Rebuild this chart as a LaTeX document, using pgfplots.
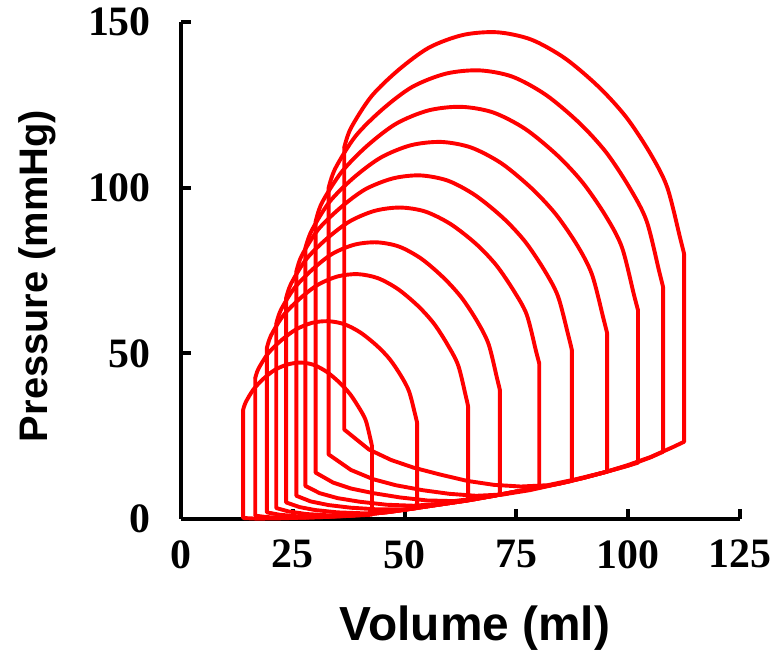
\documentclass[border=0pt]{standalone}
\usepackage{pgfplots}
\pgfplotsset{compat=1.18}
\usepackage{fontspec}
\setmainfont{Liberation Serif}
\newfontfamily\arialfont{Liberation Sans}
\tikzset{loop/.style={color=red, solid, line width=3.9bp, line join=round, line cap=round, mark=none},
         arc/.style={loop, smooth, tension=0.5}}
\begin{document}
\begin{tikzpicture}
\path[use as bounding box] (0,0) rectangle (775bp,657bp);
\begin{axis}[
  at={(181bp,138bp)}, anchor=south west,
  width=559bp, height=497bp, scale only axis,
  xmin=0, xmax=125, ymin=0, ymax=150,
  axis lines=left,
  axis line style={-, line width=4bp, black},
  xtick={0,25,50,75,100,125},
  ytick={0,50,100,150},
  tick align=inside,
  major tick length=10bp,
  every tick/.style={black, line width=4bp},
  /pgf/number format/assume math mode=true,
  xticklabel style={font=\fontsize{42}{42}\selectfont\bfseries, anchor=north, inner sep=0pt, yshift=-21bp},
  yticklabel style={font=\fontsize{42}{42}\selectfont\bfseries, anchor=east, inner sep=0pt, xshift=-30bp},
  xlabel={Volume (ml)},
  ylabel={Pressure (mmHg)},
  xlabel style={font=\fontsize{48}{48}\selectfont\arialfont\bfseries, at={(axis description cs:0.526,-0.2435)}, anchor=base, inner sep=0pt},
  ylabel style={font=\fontsize{40}{40}\selectfont\arialfont\bfseries, at={(axis description cs:-0.238,0.489)}, anchor=base, rotate=0, inner sep=0pt},
  clip=false,
]
% loop 1
\addplot[loop] coordinates {(13.9,33.0)(13.9,0.3)(17,0.1)(22,0.2)(27,0.4)(32,0.6)(37,0.9)(42.7,1.3)(42.7,22)};
\addplot[arc] coordinates {(42.7,22)(42.4,23.9)(41.3,29.8)(39.8,33.6)(37.8,37.7)(35.5,41.1)(32.6,44.4)(29.7,46.5)(26.9,47.2)(24.0,46.7)(21.1,45.1)(18.5,42.4)(16.2,39.1)(14.5,35.3)(13.9,33.0)};
% loop 2
\addplot[loop] coordinates {(16.6,42.5)(16.6,1)(19,0.6)(23,0.3)(28,0.4)(33,0.7)(38,1.0)(43,1.6)(48,2.4)(52.8,3.3)(52.8,29)};
\addplot[arc] coordinates {(52.8,29)(52.4,31.3)(51.0,38.5)(49.2,43.2)(46.7,48.2)(43.8,52.3)(40.1,56.3)(36.5,58.8)(32.9,59.7)(29.3,59.2)(25.7,57.2)(22.4,53.9)(19.5,50.0)(17.3,45.3)(16.6,42.5)};
% loop 3
\addplot[loop] coordinates {(19.2,51.6)(19.2,2)(22,1.3)(26,0.8)(31,0.6)(36,0.9)(40,1.2)(45,1.9)(50,2.8)(55,3.8)(60,4.8)(64.2,5.6)(64.2,34)};
\addplot[arc] coordinates {(64.2,34)(63.7,37.0)(62.0,46.3)(59.7,52.4)(56.6,58.9)(53.0,64.3)(48.5,69.4)(44.0,72.7)(39.5,73.9)(35.0,73.2)(30.5,70.6)(26.4,66.3)(22.8,61.3)(20.1,55.3)(19.2,51.6)};
% loop 4
\addplot[loop] coordinates {(21.3,58.9)(21.3,3.3)(24,2.3)(28,1.5)(33,1.1)(38,1.1)(43,1.6)(48,2.4)(55,3.8)(60,4.8)(65,5.8)(71.3,7.4)(71.3,39)};
\addplot[arc] coordinates {(71.3,39)(70.7,42.3)(68.8,52.7)(66.3,59.5)(62.8,66.7)(58.8,72.7)(53.8,78.5)(48.8,82.2)(43.8,83.5)(38.8,82.8)(33.8,80.0)(29.3,75.2)(25.3,69.6)(22.3,63.0)(21.3,58.9)};
% loop 5
\addplot[loop] coordinates {(23.5,66.6)(23.5,5)(26.5,3.6)(30,2.7)(35,2.0)(41,1.7)(46,2.0)(50,2.8)(55,3.8)(60,4.8)(65,5.8)(70,7.0)(75,8.3)(80.1,9.5)(80.1,47)};
\addplot[arc] coordinates {(80.1,47)(79.4,50.6)(77.3,61.7)(74.4,68.9)(70.5,76.6)(66.0,83.0)(60.3,89.0)(54.6,92.8)(49.0,94.0)(43.3,93.0)(37.7,89.8)(32.6,84.6)(28.0,78.4)(24.6,71.0)(23.5,66.6)};
% loop 6
\addplot[loop] coordinates {(25.8,74.7)(25.8,7)(29,5.3)(33,4.2)(38,3.4)(44,2.9)(50,2.9)(55,3.8)(60,4.8)(65,5.8)(70,7.0)(75,8.3)(80,9.5)(87.4,11.5)(87.4,51)};
\addplot[arc] coordinates {(87.4,51)(86.7,54.9)(84.3,67.2)(81.2,75.2)(76.9,83.8)(72.0,90.9)(65.8,97.7)(59.7,102.1)(53.5,103.7)(47.4,102.8)(41.2,99.5)(35.7,94.0)(30.7,87.4)(27.0,79.5)(25.8,74.7)};
% loop 7
\addplot[loop] coordinates {(27.8,81.7)(27.8,10)(31,7.8)(35,6.3)(40,5.2)(46,4.3)(52,4.0)(58,4.6)(64,5.8)(70,7.0)(75,8.3)(80,9.5)(85,10.8)(90,12.4)(95.3,14.3)(95.3,56)};
\addplot[arc] coordinates {(95.3,56)(94.5,60.3)(91.9,73.8)(88.6,82.6)(83.8,92.0)(78.4,99.8)(71.7,107.3)(64.9,112.1)(58.2,113.8)(51.4,112.8)(44.7,109.1)(38.6,103.0)(33.2,95.7)(29.2,87.0)(27.8,81.7)};
% loop 8
\addplot[loop] coordinates {(30.1,89.7)(30.1,14)(34,11)(38,9.2)(43,7.8)(49,6.5)(55,5.6)(61,5.4)(67,6.4)(73,7.8)(79,9.3)(85,10.8)(90,12.4)(95,14.2)(100,16.1)(102.2,17.0)(102.2,63)};
\addplot[arc] coordinates {(102.2,63)(101.3,67.6)(98.6,82.0)(95.0,91.4)(89.9,101.4)(84.2,109.7)(77.0,117.7)(69.8,122.7)(62.6,124.4)(55.3,123.3)(48.1,119.3)(41.6,112.6)(35.9,104.7)(31.5,95.4)(30.1,89.7)};
% loop 9
\addplot[loop] coordinates {(33.0,99.9)(33,19.5)(38,14.8)(43,12.0)(48,10.2)(54,8.7)(60,7.6)(66,7.0)(72,7.4)(78,8.7)(84,10.5)(90,12.4)(95,14.2)(100,16.1)(105,18.6)(107.8,20.3)(107.8,70)};
\addplot[arc] coordinates {(107.8,70)(106.9,74.9)(104.1,90.0)(100.3,100.0)(95.1,110.6)(89.1,119.5)(81.6,128.0)(74.1,133.5)(66.7,135.4)(59.2,134.4)(51.7,130.4)(45.0,123.6)(39.0,115.5)(34.5,105.8)(33.0,99.9)};
% loop 10
\addplot[loop] coordinates {(36.5,112.1)(36.5,27)(42,21)(47,17.8)(52,15.5)(58,13.4)(64,11.5)(70,10.3)(76,9.8)(82,10.2)(88,11.9)(95,14.2)(100,16.3)(105,18.7)(110,21.7)(112.5,23.3)(112.5,80.0)};
\addplot[arc] coordinates {(112.5,80.0)(111.6,84.9)(108.7,100.2)(104.9,110.4)(99.6,121.2)(93.5,130.3)(85.9,139.0)(78.3,144.7)(70.7,146.9)(63.1,146.1)(55.5,142.3)(48.7,135.6)(42.6,127.6)(38.0,118.0)(36.5,112.1)};
\end{axis}
\end{tikzpicture}
\end{document}
